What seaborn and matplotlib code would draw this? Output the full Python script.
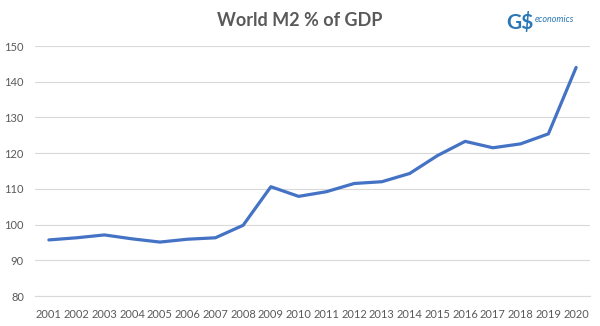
import matplotlib
matplotlib.use("Agg")
import matplotlib.pyplot as plt
import seaborn as sns
import pandas as pd
import numpy as np

years = ["2001", "2002", "2003", "2004", "2005", "2006", "2007", "2008", "2009", "2010",
         "2011", "2012", "2013", "2014", "2015", "2016", "2017", "2018", "2019", "2020"]
m2_pct_gdp = [95.7, 96.3, 97.1, 96.0, 95.1, 95.9, 96.3, 99.8, 110.6, 107.9,
              109.2, 111.5, 112.0, 114.3, 119.3, 123.3, 121.5, 122.6, 125.4, 144.0]
yticks = [80, 90, 100, 110, 120, 130, 140, 150]

sns.set_theme(style="white")
plt.rcParams['font.family'] = ['Lato', 'DejaVu Sans']

df = pd.DataFrame({"pos": np.arange(len(years)), "value": m2_pct_gdp})

fig = plt.figure(figsize=(6, 3.26), dpi=100)
ax = fig.add_axes([35/600, 1 - 296/326, 555/600, 250/326])

sns.lineplot(data=df, x="pos", y="value", ax=ax, color="#4472C4", linewidth=2.3)

ax.set_xlim(-0.5, len(years) - 0.5)
ax.set_ylim(80, 150)
ax.set_yticks(yticks)
ax.set_yticklabels([str(v) for v in yticks], color="#595959", fontsize=8)
ax.set_xticks(np.arange(len(years)))
ax.set_xticklabels(years, color="#595959", fontsize=8)
ax.tick_params(axis="x", which="major", length=0, pad=9)
ax.tick_params(axis="y", length=0, pad=8)
ax.set_xticks(np.arange(len(years) + 1) - 0.5, minor=True)
ax.tick_params(axis="x", which="minor", length=4, color="#d9d9d9", width=0.8, direction="out")
ax.grid(axis="y", color="#d9d9d9", linewidth=0.8)
ax.set_axisbelow(True)
for s in ["top", "right", "left"]:
    ax.spines[s].set_visible(False)
ax.spines["bottom"].set_color("#d9d9d9")
ax.spines["bottom"].set_linewidth(0.8)
ax.set_xlabel("")
ax.set_ylabel("")

fig.text(0.5, 1 - 20/326, "World M2 % of GDP", ha="center", va="center",
         fontsize=13, fontweight="bold", color="#595959")
fig.text(520/600, 1 - 22/326, "G$", ha="center", va="center", fontsize=15,
         color="#2a78b5", fontweight="bold")
fig.text(535/600, 1 - 20/326, "economics", ha="left", va="center", fontsize=6.5,
         color="#2a78b5", style="italic")

fig.savefig("out.png", dpi=100)
